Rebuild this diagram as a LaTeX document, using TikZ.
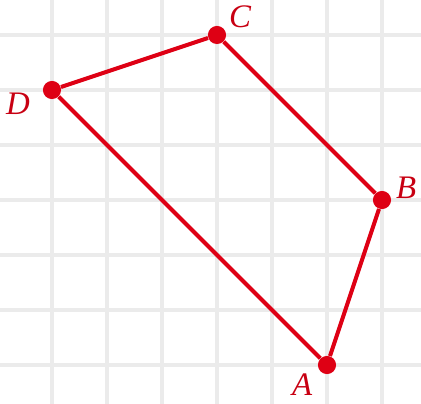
\documentclass[tikz,border=0pt]{standalone}
\usepackage{fontspec}
\setmainfont{Liberation Serif}
\usetikzlibrary{positioning}
\definecolor{gridcolor}{rgb}{0.92, 0.92, 0.92}
\definecolor{quadcolor}{rgb}{0.87, 0.0, 0.08}
\tikzset{vertex/.style={circle, fill=quadcolor, inner sep=0pt, minimum size=0.33cm}}
\tikzset{side/.style={draw=quadcolor, line width=2.1pt}}
\tikzset{vlabel/.style={text=quadcolor!90!black, font=\fontsize{17}{17}\selectfont\itshape, inner sep=0pt}}

\begin{document}
\begin{tikzpicture}
	\useasboundingbox (-0.945,-6.691) rectangle (6.709,0.636);
	
	%%% GRID %%%
	\begin{scope}
		\clip (-0.945,-6.691) rectangle (6.709,0.636);
		\draw[gridcolor, line width=2pt] (-1,-7) grid (7,1);
	\end{scope}
	
	%%% NODES %%%
	
	% VERTICES
	\node[vertex] at (5,-6) (A) {};
	\node[vertex] at (6,-3) (B) {};
	\node[vertex] at (3,0) (C) {};
	\node[vertex] at (0,-1) (D) {};
	
	% LABELS
	\node[vlabel] at (4.55,-6.36) (labelA) {A};
	\node[vlabel] at (6.44,-2.78) (labelB) {B};
	\node[vlabel] at (3.42,0.33) (labelC) {C};
	\node[vlabel] at (-0.62,-1.25) (labelD) {D};
	
	%%% SIDES %%%
	\draw[side] (A) -- (B);
	\draw[side] (B) -- (C);
	\draw[side] (C) -- (D);
	\draw[side] (D) -- (A);
	
\end{tikzpicture}
\end{document}
